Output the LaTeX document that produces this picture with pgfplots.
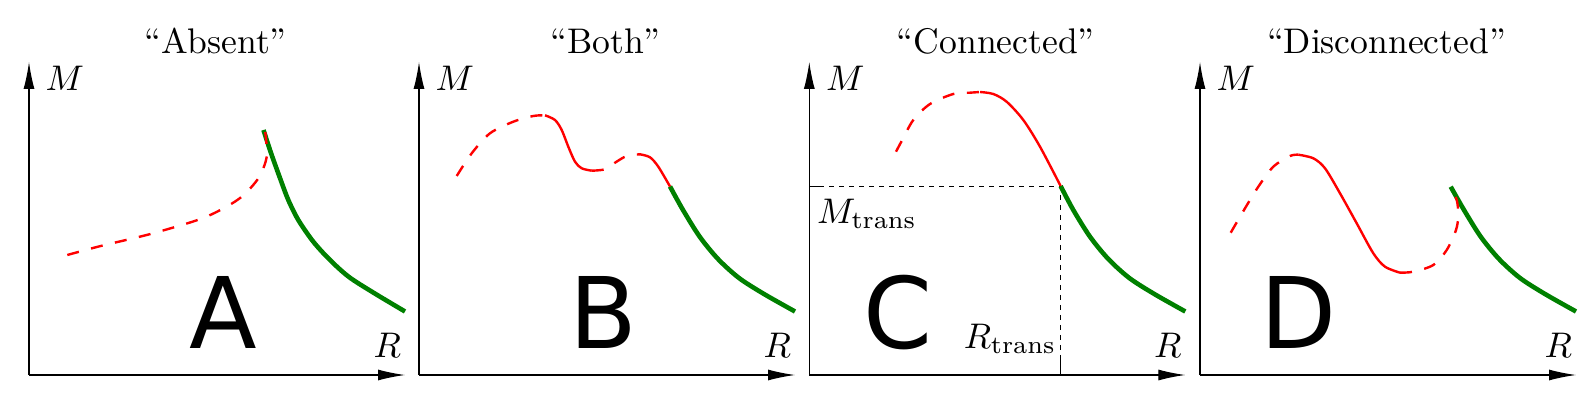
\documentclass[border=0pt]{standalone}
\usepackage{pgfplots}
\pgfplotsset{compat=1.18}
\usepackage{fontspec}
\newfontfamily\bigsans{DejaVu Sans}
\usetikzlibrary{arrows.meta}
\definecolor{dgreen}{RGB}{0,128,0}
\newcommand{\biglet}{\bigsans\fontsize{49.4}{52}\selectfont}
\tikzset{lab/.style={scale=1.78, inner sep=0pt}}
\pgfplotsset{
  panel/.style={
    scale only axis,
    width=188pt, height=156.5pt,
    xmin=0, xmax=376, ymin=0, ymax=313,
    axis lines=left,
    axis line style={line width=0.6pt, -{Latex[length=13.5pt,width=5.5pt]}},
    xtick=\empty, ytick=\empty,
    anchor=south west,
    clip=false,
  },
  reddash/.style={red, line width=1.2pt, dash pattern=on 6pt off 6.3pt, smooth, no marks},
  redsolid/.style={red, line width=1.2pt, smooth, no marks},
  greenline/.style={dgreen, line width=2.3pt, smooth, no marks},
}
\begin{document}
\begin{tikzpicture}
\useasboundingbox (0,0) rectangle (795pt,201pt);
% ---------- A ----------
\begin{axis}[panel, at={(14.5pt,13.5pt)}]
\addplot[greenline] coordinates {(234.5,245) (242,222) (251.7,195) (259.3,175) (269.3,155) (284.3,133.3) (301,115) (320,98) (345,82) (376,63.5)};
\addplot[reddash] coordinates {(38.3,120) (71.7,129) (120.3,140.7) (168.7,155) (192.7,165.7) (212.7,178.3) (229.3,196.7) (237.7,218.3) (236,245)};
\node[lab, anchor=base] at (axis cs:186.5,321.7) {``Absent''};
\node[lab, anchor=base west] at (axis cs:16,284.3) {$M$};
\node[lab, anchor=base west] at (axis cs:344,17.7) {$R$};
\node[anchor=base,inner sep=0pt] at (axis cs:194,26.7) {\biglet A};
\end{axis}
% ---------- B ----------
\begin{axis}[panel, at={(209.5pt,13.5pt)}]
\addplot[greenline] coordinates {(251,188.5) (264,165) (280.7,138.3) (299,116) (320,97) (345,81) (376,63.5)};
\addplot[reddash] coordinates {(37.7,199) (52.7,221.7) (71,241.7) (94.3,253.3) (114.3,259) (126,259.7)};
\addplot[redsolid] coordinates {(126,259.7) (136,255) (142.7,245) (149.3,228.3) (156,213.3) (162.7,206.7) (172.7,204.3)};
\addplot[reddash] coordinates {(172.7,204.3) (186,205.7) (196,212.3) (207.7,219) (221,220.7)};
\addplot[redsolid] coordinates {(221,220.7) (231,217.7) (239.3,208.3) (251,188.5)};
\node[lab, anchor=base] at (axis cs:186.5,321.7) {``Both''};
\node[lab, anchor=base west] at (axis cs:16,284.3) {$M$};
\node[lab, anchor=base west] at (axis cs:344,17.7) {$R$};
\node[anchor=base,inner sep=0pt] at (axis cs:184.3,26.7) {\biglet B};
\end{axis}
% ---------- C ----------
\begin{axis}[panel, at={(404.65pt,13.5pt)},
  xtick={251.3}, ytick={188.8}, xticklabels={}, yticklabels={},
  tick align=inside, major tick length=7.5pt,
  tick style={black, line width=0.6pt}]
\addplot[black, line width=0.45pt, dash pattern=on 2.5pt off 2.5pt, no marks] coordinates {(0,188.8) (251.3,188.8) (251.3,0)};
\addplot[greenline] coordinates {(251.3,189) (264,165) (280.7,138.3) (299,116) (320,97) (345,81) (376,63.5)};
\addplot[reddash] coordinates {(86.7,223.3) (92.4,234) (104,255) (120.7,271) (144,281) (160.7,282.3) (170.7,283)};
\addplot[redsolid] coordinates {(170.7,283) (184,281) (197.3,273.3) (214,255) (230.7,228.3) (251.3,189)};
\node[lab, anchor=base] at (axis cs:186.5,321.7) {``Connected''};
\node[lab, anchor=base west] at (axis cs:16,284.3) {$M$};
\node[lab, anchor=base west] at (axis cs:344,17.7) {$R$};
\node[lab, anchor=base west] at (axis cs:7,151.7) {$M_{\mathrm{trans}}$};
\node[lab, anchor=base east] at (axis cs:247.5,26.7) {$R_{\mathrm{trans}}$};
\node[anchor=base,inner sep=0pt] at (axis cs:88.5,26.7) {\biglet C};
\end{axis}
% ---------- D ----------
\begin{axis}[panel, at={(600pt,13.5pt)}]
\addplot[greenline] coordinates {(250.7,188.3) (264,165) (280.7,138.3) (299,116) (320,97) (345,81) (376,63.5)};
\addplot[reddash] coordinates {(30.7,142.3) (45,166.7) (58.3,188.3) (73.3,208.3) (90,219) (98.3,220.3)};
\addplot[redsolid] coordinates {(98.3,220.3) (113.3,216.7) (125,206.7) (140,181.7) (156.7,151.7) (173.3,121.7) (185,108.3) (200,102.3)};
\addplot[reddash] coordinates {(200,102.3) (213.3,103.3) (233.3,110) (246.7,125) (256,145) (258.3,160) (256.7,175) (250.7,188.3)};
\node[lab, anchor=base] at (axis cs:186.5,321.7) {``Disconnected''};
\node[lab, anchor=base west] at (axis cs:16,284.3) {$M$};
\node[lab, anchor=base west] at (axis cs:344,17.7) {$R$};
\node[anchor=base,inner sep=0pt] at (axis cs:98.7,26.7) {\biglet D};
\end{axis}
\end{tikzpicture}
\end{document}
